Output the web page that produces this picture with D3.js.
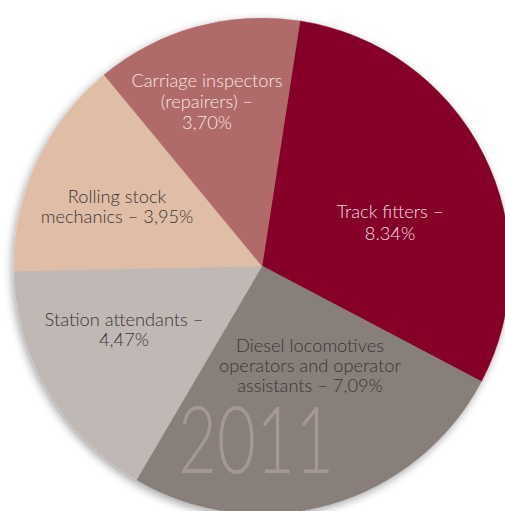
<!DOCTYPE html>
<html><head><meta charset="utf-8">
<script src="https://cdn.jsdelivr.net/npm/d3@7/dist/d3.min.js"></script>
<style>html,body{margin:0;padding:0;background:#fff;overflow:hidden}</style>
</head><body>
<svg id="c" width="505" height="511"></svg>
<script>
const categories = ["Track fitters", "Diesel locomotives operators and operator assistants", "Station attendants", "Rolling stock mechanics", "Carriage inspectors (repairers)"];
const values = [8.34, 7.09, 4.47, 3.95, 3.70];
const valueLabels = ["8.34%", "7,09%", "4,47%", "3,95%", "3,70%"];
const labelLines = [
  ["Track fitters –", "8.34%"],
  ["Diesel locomotives", "operators and operator", "assistants – 7,09%"],
  ["Station attendants –", "4,47%"],
  ["Rolling stock", "mechanics – 3,95%"],
  ["Carriage inspectors", "(repairers) –", "3,70%"]
];
const yearLabel = "2011";

const colors = ["#850027", "#897f7a", "#bfb8b4", "#e0bda6", "#b16a6b"];
const textColors = ["#f3dfe3", "#3b3434", "#3b3434", "#3b3434", "#f6e6e4"];
// label anchor: [dx from centre, dy of first baseline from centre, line height]
const labelPos = [[128, -48, 22], [48, 86, 20], [-138, 60, 20], [-145, -63, 20], [-55, -179, 21]];

const cx = 262, cy = 266, R = 248;
const FONT = "Lato, 'Open Sans', sans-serif";
const svg = d3.select("#c");
const defs = svg.append("defs");
const f = defs.append("filter").attr("id","sh").attr("x","-20%").attr("y","-20%").attr("width","140%").attr("height","140%");
f.append("feDropShadow").attr("dx",-2).attr("dy",3).attr("stdDeviation",4).attr("flood-color","#000").attr("flood-opacity",0.35);

const g = svg.append("g").attr("transform", `translate(${cx},${cy})`);
const start = 8.8 * Math.PI / 180;
const pie = d3.pie().sort(null).value(d => d).startAngle(start).endAngle(start + 2*Math.PI);
const arcs = pie(values);
const arc = d3.arc().innerRadius(0).outerRadius(R);

g.append("g").attr("filter","url(#sh)")
  .selectAll("path").data(arcs).join("path")
  .attr("d", arc).attr("fill", (d,i) => colors[i])
  .attr("stroke", (d,i) => colors[i]).attr("stroke-width", 0.5);

// year label, condensed to mimic narrow typeface
const yr = g.append("text").attr("text-anchor","middle")
  .attr("font-family", FONT).attr("font-weight",300)
  .attr("font-size", 93).attr("fill","#a39893").text(yearLabel);
const yw = yr.node().getComputedTextLength();
const ysx = 156 / yw;
yr.attr("transform", `translate(-6,207) scale(${ysx},1)`);

// measure reference line to derive a condensing factor
const probe = g.append("text").attr("font-family", FONT).attr("font-weight",300).attr("font-size",17.5).text("Diesel locomotives");
const sx = 148 / probe.node().getComputedTextLength();
probe.remove();

arcs.forEach((a, i) => {
  const lines = labelLines[i];
  const [lx, ly, lh] = labelPos[i];
  const t = g.append("text").attr("text-anchor","middle")
    .attr("transform", `translate(${lx},${ly}) scale(${sx},1)`)
    .attr("font-family", FONT).attr("font-weight",300)
    .attr("font-size", 17.5).attr("fill", textColors[i]);
  lines.forEach((s, k) => {
    t.append("tspan").attr("x", 0).attr("y", k * lh).text(s);
  });
});
</script>
</body></html>
